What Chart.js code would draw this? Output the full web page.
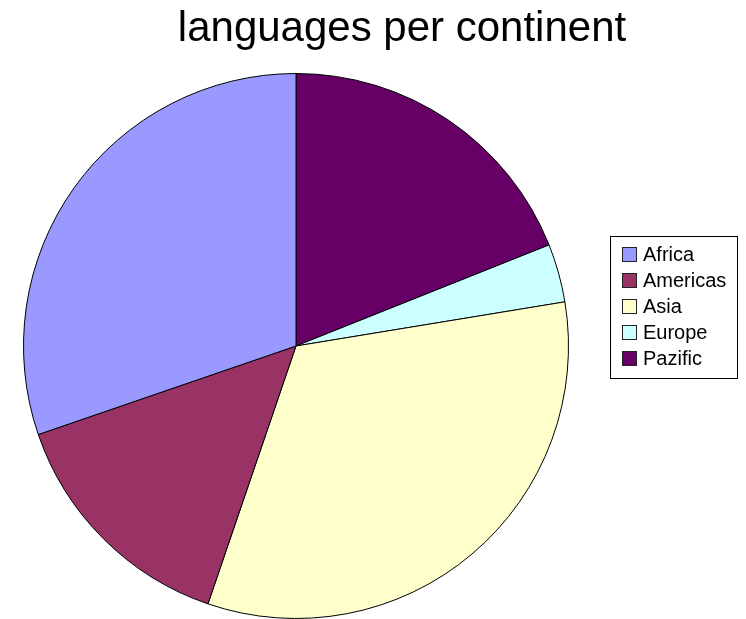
<!DOCTYPE html>
<html>
<head>
<meta charset="utf-8">
<title>languages per continent</title>
<script src="https://cdn.jsdelivr.net/npm/chart.js@4.4.1/dist/chart.umd.min.js"></script>
<style>
  html, body { margin: 0; padding: 0; background: #fff; }
  #wrap { width: 746px; height: 619px; }
</style>
</head>
<body>
<div id="wrap"><canvas id="chart"></canvas></div>
<script>
const chartTitle = 'languages per continent';
const continents = ['Africa', 'Americas', 'Asia', 'Europe', 'Pazific'];
const languageCounts = [2092, 1002, 2269, 239, 1310];
const sliceColors = ['#9999ff', '#993366', '#ffffcc', '#ccffff', '#660066'];

// original runs anticlockwise from 12 o'clock, chart.js goes clockwise,
// so the dataset gets the lists backwards
const rev = arr => arr.slice().reverse();

const font = '"Liberation Sans", Arial, sans-serif';

// title sits off-centre and the legend has a frame, easier to draw by hand
const titleAndLegend = {
    id: 'titleAndLegend',
    afterDraw(chart) {
        const ctx = chart.ctx;
        ctx.save();
        ctx.fillStyle = '#000';
        ctx.font = `42px ${font}`;
        ctx.textAlign = 'center';
        ctx.textBaseline = 'alphabetic';
        ctx.fillText(chartTitle, 402, 41);

        ctx.lineWidth = 1;
        ctx.strokeStyle = '#000';
        ctx.strokeRect(610.5, 236.5, 127, 142);
        ctx.font = `20px ${font}`;
        ctx.textAlign = 'left';
        ctx.textBaseline = 'middle';
        continents.forEach((name, i) => {
            let y = 254.5 + i * 26;
            ctx.fillStyle = sliceColors[i];
            ctx.fillRect(622.5, y - 7, 14, 14);
            ctx.strokeStyle = '#222';
            ctx.strokeRect(622.5, y - 7, 14, 14);
            ctx.fillStyle = '#000';
            ctx.fillText(name, 643, y + 1);
        });
        ctx.restore();
    }
};

const myChart = new Chart(document.getElementById('chart'), {
    type: 'pie',
    data: {
        labels: rev(continents),
        datasets: [{
            label: 'languages',
            data: rev(languageCounts),
            backgroundColor: rev(sliceColors),
            borderColor: '#000',
            borderWidth: 1
        }]
    },
    options: {
        responsive: true,
        maintainAspectRatio: false,
        animation: false,
        layout: {
            padding: { top: 73, right: 154, bottom: 0, left: 0 }
        },
        plugins: {
            legend: { display: false },
            title: { display: false }
        }
    },
    plugins: [titleAndLegend]
});
</script>
</body>
</html>
